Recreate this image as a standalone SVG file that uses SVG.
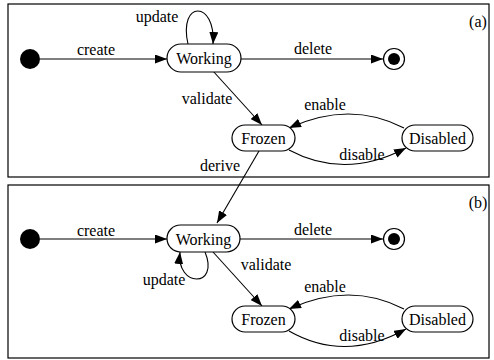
<svg xmlns="http://www.w3.org/2000/svg" width="494" height="360" viewBox="0 0 494 360">
<style>
text{font-family:'Liberation Serif','Times New Roman','DejaVu Serif',serif;font-size:16px;fill:#000;text-anchor:middle}
.st{fill:#fff;stroke:#000;stroke-width:1.2}
.e{fill:none;stroke:#000;stroke-width:1.1;marker-end:url(#arr)}
.panel{fill:#fff;stroke:#000;stroke-width:1.2}
</style>
<defs>
<marker id="arr" markerUnits="userSpaceOnUse" markerWidth="13" markerHeight="9" refX="12" refY="4.5" orient="auto"><path d="M0,0 L12,4.5 L0,9 z" fill="#000"/></marker>
</defs>
<rect class="panel" x="8" y="4" width="481" height="173"/>
<rect class="panel" x="8" y="185" width="481" height="173"/>
<text x="478" y="27" font-family="Liberation Serif, serif">(a)</text>
<text x="478" y="208" font-family="Liberation Serif, serif">(b)</text>
<g id="connectors" font-family="Liberation Serif, serif">
<path class="e" d="M40,59 L167,59"/>
<path class="e" d="M188,44 C178,0 216,0 213,44"/>
<path class="e" d="M241,59 L383,59"/>
<path class="e" d="M213,71 L262,125"/>
<path class="e" d="M404,128 Q350,100 289,128"/>
<path class="e" d="M289,150 Q345,180 406,148"/>
<path class="e" d="M259,151 L217,223"/>
<path class="e" d="M40,239 L167,239"/>
<path class="e" d="M205,252 C220,288 176,288 180,252"/>
<path class="e" d="M240,239 L383,239"/>
<path class="e" d="M213,252 L262,306"/>
<path class="e" d="M404,309 Q350,281 289,309"/>
<path class="e" d="M289,331 Q345,363 406,329"/>
<text x="96" y="55">create</text>
<text x="157" y="22">update</text>
<text x="313" y="54">delete</text>
<text x="207" y="104">validate</text>
<text x="325" y="110">enable</text>
<text x="362" y="160">disable</text>
<text x="220" y="171">derive</text>
<text x="96" y="236">create</text>
<text x="164" y="285">update</text>
<text x="313" y="235">delete</text>
<text x="266" y="270">validate</text>
<text x="325" y="292">enable</text>
<text x="362" y="341">disable</text>
</g>
<g id="init-a"><circle cx="30" cy="59" r="10" fill="#000"/></g>
<g id="working-a"><rect class="st" x="167" y="44" width="74" height="28" rx="14"/><text x="204" y="64">Working</text></g>
<g id="final-a"><circle cx="394" cy="59" r="10.5" fill="#fff" stroke="#000" stroke-width="1.2"/><circle cx="394" cy="59" r="6" fill="#000"/></g>
<g id="frozen-a"><rect class="st" x="232" y="125" width="63" height="26" rx="13"/><text x="263.5" y="144">Frozen</text></g>
<g id="disabled-a"><rect class="st" x="402" y="125" width="71" height="26" rx="13"/><text x="437.5" y="144">Disabled</text></g>
<g id="init-b"><circle cx="30" cy="239" r="10" fill="#000"/></g>
<g id="working-b"><rect class="st" x="167" y="225" width="73" height="27" rx="13.5"/><text x="203.5" y="245">Working</text></g>
<g id="final-b"><circle cx="394" cy="239" r="10.5" fill="#fff" stroke="#000" stroke-width="1.2"/><circle cx="394" cy="239" r="6" fill="#000"/></g>
<g id="frozen-b"><rect class="st" x="232" y="306" width="63" height="26" rx="13"/><text x="263.5" y="325">Frozen</text></g>
<g id="disabled-b"><rect class="st" x="402" y="306" width="71" height="26" rx="13"/><text x="437.5" y="325">Disabled</text></g>
</svg>
